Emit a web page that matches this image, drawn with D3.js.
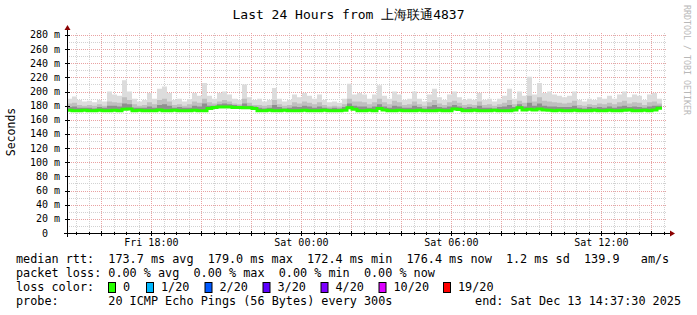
<!DOCTYPE html>
<html><head><meta charset="utf-8">
<script src="https://cdn.jsdelivr.net/npm/d3@7"></script>
<style>
body{margin:0;background:#fff}
svg{display:block}
text{font-family:"DejaVu Sans Mono",monospace}
</style>
</head><body>
<svg id="c" width="697" height="315"></svg>
<script>
// ---------------- data ----------------
const titleText = "Last 24 Hours from 上海联通4837";
const yAxisTitle = "Seconds";
const endTime = "2025-12-13T14:37:30Z";
const stepMinutes = 12;
const yTickValues = [0,20,40,60,80,100,120,140,160,180,200,220,240,260,280];
const yTickLabels = ["0","20 m","40 m","60 m","80 m","100 m","120 m","140 m","160 m","180 m","200 m","220 m","240 m","260 m","280 m"];

// median rtt (ms), one value per 12-minute step
const median = [
173.5,173,173,173.5,173,173,173.5,173,173,173.5,
173,175,175.5,173,173.5,173,173,173,174,173,
173,173.5,173,173,173,173.5,173,173,176,177.5,
178,178,178,177.5,177.5,177,177,176,173,173,
173.5,173,173,173.5,173,173,173,173.5,173,173,
173,173.5,173,173,173,173.5,177,175,173,173,
173.5,173,176,174,173,173,173.5,173,173,173,
173.5,173,173,173,173.5,173,173,175.5,174.5,173,
173,173.5,173,173,173,173.5,173,173,173,174,
177,174,175,174,175.5,174,173.5,173,173.5,173,
173,173.5,173,173,173,173.5,173,173,173.5,173,
173,173.5,174,173,173,173.5,173,174,176.4];
// smoke: upper quantiles of the 20 pings (ms)
const pingMax = [
190,193,188,186,187,185,188,186,200,196,
194,216,200,190,186,188,198,190,204,207,
198,188,190,186,189,198,194,212,194,190,
198,200,196,190,188,210,192,188,190,186,
188,205,190,186,188,196,192,198,194,190,
196,188,185,186,184,190,211,196,198,196,
190,196,209,194,190,200,196,188,190,200,
190,186,196,204,192,188,196,200,192,188,
190,188,198,188,190,186,190,194,204,190,
200,194,221,196,212,198,200,196,194,192,
194,200,188,186,190,188,192,190,194,190,
196,200,192,196,194,188,196,198,190];
const ping90 = [
183,184,181,180,181,180,182,180,186,185,
184,192,188,182,180,181,185,182,188,190,
186,181,182,180,182,186,184,190,185,183,
186,188,186,183,182,190,184,181,181,180,
181,188,182,180,181,185,183,186,184,182,
185,181,179,180,179,182,190,186,186,185,
182,185,190,185,182,187,185,181,182,186,
182,180,185,188,183,181,185,187,184,181,
182,181,186,181,182,180,182,184,188,182,
187,184,194,186,192,187,186,185,184,183,
184,187,181,180,182,181,183,182,184,182,
185,187,183,185,184,181,185,186,183];
const ping75 = [
178,179,177,177,177,176,178,177,180,180,
179,183,182,177,177,177,179,177,181,182,
180,177,178,177,177,180,179,183,180,180,
182,183,182,181,180,183,180,179,177,176,
177,181,178,176,177,179,178,180,179,177,
179,177,176,177,176,178,183,180,179,179,
177,179,182,179,177,180,179,177,177,180,
178,176,179,181,178,177,179,181,179,177,
178,177,180,177,177,176,178,179,181,178,
182,179,184,180,183,180,179,179,178,178,
178,180,177,176,178,177,178,177,179,177,
179,180,178,179,178,177,179,180,180];

const legendRtt = ["median rtt:","173.7 ms avg","179.0 ms max","172.4 ms min","176.4 ms now","1.2 ms sd","139.9","am/s"];
const legendRttCols = [0,13,27,41,55,69,80,88];
const legendLoss = ["packet loss:","0.00 % avg","0.00 % max","0.00 % min","0.00 % now"];
const legendLossCols = [0,13,25,37,49];
const lossLabels = ["0","1/20","2/20","3/20","4/20","10/20","19/20"];
const lossColors = ["#26ff00","#00b8ff","#0059ff","#5e00ff","#7e00ff","#dd00ff","#ff0000"];
const probeText = ["probe:","20 ICMP Echo Pings (56 Bytes) every 300s","end: Sat Dec 13 14:37:30 2025"];
const watermark = "RRDTOOL / TOBI OETIKER";

// ---------------- drawing ----------------
const svg = d3.select("#c");
const L = 67, R = 667, T = 33, B = 233;
const end = new Date(endTime);
const start = new Date(end.getTime() - 24*3600*1000);
const x = d3.scaleUtc().domain([start, end]).range([L, R]);
const y = d3.scaleLinear().domain([0, 282.8]).range([B, T]);

svg.append("rect").attr("width",697).attr("height",315).attr("fill","#fff");

// grid
const g = svg.append("g");
const minorX = d3.utcMinute.every(30).range(start, end).filter(d => d.getUTCMinutes()!==0 || d.getUTCHours()%2!==0);
const majorX = d3.utcHour.every(2).range(start, end);
const grayC = "#d2d2d2", redC = "#e9a2a2";
g.selectAll(".mx").data(minorX).join("line")
 .attr("x1", d=>Math.round(x(d))+0.5).attr("x2", d=>Math.round(x(d))+0.5)
 .attr("y1", T).attr("y2", B).attr("stroke", grayC).attr("stroke-dasharray","1,1");
const yMinor = d3.range(10, 283, 10).filter(v => v%20!==0);
const yMajor = d3.range(20, 283, 20);
g.selectAll(".my").data(yMinor).join("line")
 .attr("x1", L).attr("x2", R).attr("y1", d=>Math.round(y(d))+0.5).attr("y2", d=>Math.round(y(d))+0.5)
 .attr("stroke", grayC).attr("stroke-dasharray","1,1");
g.selectAll(".Mx").data(majorX).join("line")
 .attr("x1", d=>Math.round(x(d))+0.5).attr("x2", d=>Math.round(x(d))+0.5)
 .attr("y1", T).attr("y2", B).attr("stroke", redC).attr("stroke-dasharray","1,1");
g.selectAll(".My").data(yMajor).join("line")
 .attr("x1", L).attr("x2", R).attr("y1", d=>Math.round(y(d))+0.5).attr("y2", d=>Math.round(y(d))+0.5)
 .attr("stroke", redC).attr("stroke-dasharray","1,1");

// smoke
const n = median.length;
const times = d3.range(n+1).map(i => new Date(start.getTime() + i*stepMinutes*60000));
function band(lo, hi, color){
  const pts = d3.range(n+1).map(i => ({t: times[i], lo: lo[Math.min(i,n-1)], hi: hi[Math.min(i,n-1)]}));
  svg.append("path").datum(pts)
    .attr("d", d3.area().curve(d3.curveStepAfter).x(d=>x(d.t)).y0(d=>y(d.lo)).y1(d=>y(d.hi)))
    .attr("fill", color);
}
band(median, pingMax, "#dcdcdc");
band(median, ping90, "#bfbfbf");
band(median, ping75, "#8f8f8f");

// median line
const medPts = d3.range(n+1).map(i => ({t: times[i], v: median[Math.min(i,n-1)]}));
svg.append("path").datum(medPts)
  .attr("d", d3.line().curve(d3.curveStepAfter).x(d=>x(d.t)).y(d=>y(d.v)))
  .attr("fill","none").attr("stroke", lossColors[0]).attr("stroke-width",3);

// axes
const ax = svg.append("g");
ax.append("line").attr("x1",L-3).attr("x2",R+4).attr("y1",B+0.5).attr("y2",B+0.5).attr("stroke","#000");
ax.append("line").attr("x1",L+0.5).attr("x2",L+0.5).attr("y1",B+4).attr("y2",T-4).attr("stroke","#000");
ax.append("path").attr("d",`M${R+3},${B-2.5}L${R+8},${B+0.5}L${R+3},${B+3.5}Z`).attr("fill","#8b0000");
ax.append("path").attr("d",`M${L-2.5},${T-3}L${L+0.5},${T-8}L${L+3.5},${T-3}Z`).attr("fill","#8b0000");
ax.selectAll(".tx").data(minorX).join("line")
  .attr("x1", d=>Math.round(x(d))+0.5).attr("x2", d=>Math.round(x(d))+0.5)
  .attr("y1", B-1).attr("y2", B+2).attr("stroke","#000");
ax.selectAll(".tX").data(majorX).join("line")
  .attr("x1", d=>Math.round(x(d))+0.5).attr("x2", d=>Math.round(x(d))+0.5)
  .attr("y1", B-2).attr("y2", B+3).attr("stroke","#000");
ax.selectAll(".ty").data(yMajor).join("line")
  .attr("x1", L-2).attr("x2", L+3).attr("y1", d=>Math.round(y(d))+0.5).attr("y2", d=>Math.round(y(d))+0.5).attr("stroke","#000");

// y labels
svg.selectAll(".yl").data(yTickValues).join("text")
  .attr("x", (d,i)=> i===0 ? 48 : 60).attr("y", d=>y(d)+3.5)
  .attr("text-anchor","end").attr("font-size","10px").attr("fill","#000")
  .text((d,i)=>yTickLabels[i]);

// x labels
const labX = d3.utcHour.every(6).range(start, end);
const fmt = d3.utcFormat("%a %H:%M");
svg.selectAll(".xl").data(labX).join("text")
  .attr("x", d=>x(d)).attr("y", 246).attr("text-anchor","middle")
  .attr("font-size","10px").attr("fill","#000").text(d=>fmt(d));

// title
svg.append("text").attr("x",348.5).attr("y",19).attr("text-anchor","middle")
  .attr("font-size","13px").attr("fill","#000").text(titleText);
// y title
svg.append("text").attr("transform","translate(15,132) rotate(-90)").attr("text-anchor","middle")
  .attr("font-size","11.5px").attr("fill","#000").text(yAxisTitle);
// watermark
svg.append("text").attr("transform","translate(684,5) rotate(90)")
  .attr("font-size","8.3px").attr("fill","#b8b8b8").text(watermark);

// legend
const fs = "11.8px", cw = 7.1, lx = 16;
legendRtt.forEach((t,i)=> svg.append("text").attr("x",lx+legendRttCols[i]*cw).attr("y",263).attr("font-size",fs).text(t));
legendLoss.forEach((t,i)=> svg.append("text").attr("x",lx+legendLossCols[i]*cw).attr("y",277).attr("font-size",fs).text(t));
svg.append("text").attr("x",lx).attr("y",291).attr("font-size",fs).text("loss color:");
const boxX = [108,146,204.5,262.5,320.5,378.5,443];
lossLabels.forEach((t,i)=>{
  svg.append("rect").attr("x",boxX[i]+0.5).attr("y",282.5).attr("width",7).attr("height",10)
    .attr("fill",lossColors[i]).attr("stroke","#000");
  svg.append("text").attr("x",boxX[i]+15).attr("y",291).attr("font-size",fs).text(t);
});
svg.append("text").attr("x",lx).attr("y",305).attr("font-size",fs).text(probeText[0]);
svg.append("text").attr("x",lx+13*cw).attr("y",305).attr("font-size",fs).text(probeText[1]);
svg.append("text").attr("x",681).attr("y",305).attr("text-anchor","end").attr("font-size",fs).text(probeText[2]);
</script>
</body></html>
